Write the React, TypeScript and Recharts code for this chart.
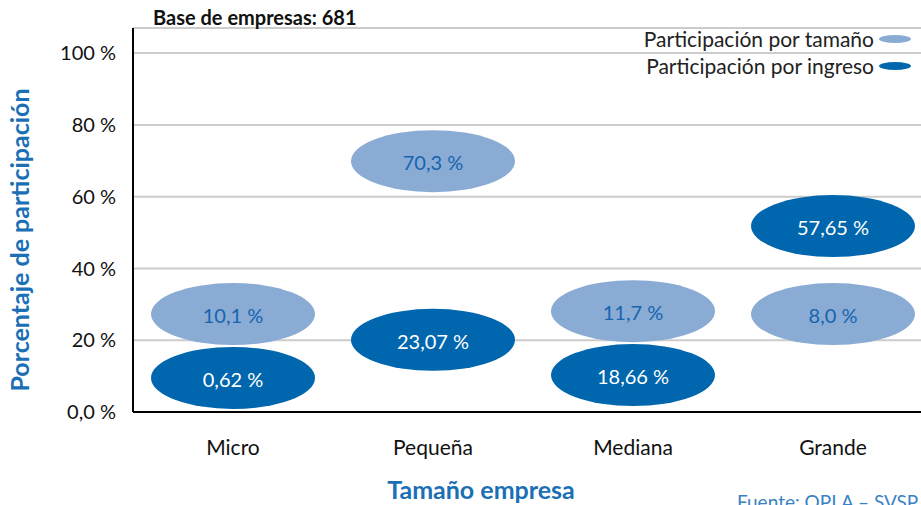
import {
  CartesianGrid,
  ComposedChart,
  Line,
  XAxis,
  YAxis,
} from "recharts";

const categories = ["Micro", "Pequeña", "Mediana", "Grande"];
// shares shown inside the ellipses
const sizeShare = [10.1, 70.3, 11.7, 8.0];
const incomeShare = [0.62, 23.07, 18.66, 57.65];
// where each ellipse sits on the y axis
const sizeMarkerY = [27.3, 69.9, 28.1, 27.3];
const incomeMarkerY = [9.5, 20.1, 10.3, 51.8];
const yTicks = [0, 20, 40, 60, 80, 100];

const LIGHT = "#8aabd4";
const DARK = "#0066ad";
const TITLE_BLUE = "#1a6fb5";
const FONT = "Lato, 'Open Sans', sans-serif";

const data = categories.map((name, i) => ({
  name,
  sizeY: sizeMarkerY[i],
  incomeY: incomeMarkerY[i],
  size: sizeShare[i],
  income: incomeShare[i],
}));

const fmt = (v: number, digits: number) => `${v.toFixed(digits).replace(".", ",")} %`;

function makeEllipse(fill: string, textColor: string, key: "size" | "income", digits: number) {
  return (props: any) => {
    const { cx, cy, index, payload } = props;
    if (cx == null || cy == null) return <g key={`${key}-${index}`} />;
    return (
      <g key={`${key}-${index}`}>
        <ellipse cx={cx} cy={cy} rx={82} ry={31} fill={fill} />
        <text
          x={cx}
          y={cy + 4}
          textAnchor="middle"
          dominantBaseline="middle"
          fill={textColor}
          fontSize={20}
          fontFamily={FONT}
        >
          {fmt(payload[key], digits)}
        </text>
      </g>
    );
  };
}

export default function App() {
  return (
    <div
      style={{
        position: "absolute",
        left: 0,
        top: 0,
        width: 921,
        height: 505,
        overflow: "hidden",
        background: "#fff",
        fontFamily: FONT,
      }}
    >
      <ComposedChart
        width={940}
        height={505}
        data={data}
        margin={{ top: 28, right: 7, bottom: 63, left: 0 }}
      >
        <CartesianGrid vertical={false} stroke="#cccccc" strokeWidth={2} />
        <XAxis
          dataKey="name"
          padding={{ left: 100, right: 100 }}
          axisLine={{ stroke: "#000", strokeWidth: 2 }}
          tickLine={false}
          tickMargin={22}
          tick={{ fill: "#111", fontSize: 21, fontFamily: FONT }}
        />
        <YAxis
          type="number"
          domain={[0, 107]}
          ticks={yTicks}
          width={133}
          axisLine={{ stroke: "#000", strokeWidth: 2 }}
          tickLine={false}
          tickMargin={11}
          tickFormatter={(v: number) => (v === 0 ? "0,0 %" : `${v} %`)}
          tick={{ fill: "#111", fontSize: 20, fontFamily: FONT }}
        />
        <Line
          dataKey="sizeY"
          stroke="none"
          isAnimationActive={false}
          dot={makeEllipse(LIGHT, "#1565b0", "size", 1)}
          activeDot={false}
        />
        <Line
          dataKey="incomeY"
          stroke="none"
          isAnimationActive={false}
          dot={makeEllipse(DARK, "#fff", "income", 2)}
          activeDot={false}
        />
      </ComposedChart>

      <div
        style={{
          position: "absolute",
          left: 153,
          top: 5,
          fontSize: 20,
          fontWeight: 700,
          color: "#111",
        }}
      >
        Base de empresas: 681
      </div>

      <div style={{ position: "absolute", right: 8, top: 25, fontSize: 21, color: "#222" }}>
        <div style={{ display: "flex", alignItems: "center", justifyContent: "flex-end", height: 27 }}>
          <span>Participación por tamaño</span>
          <svg width={36} height={10} style={{ marginLeft: 3 }}>
            <ellipse cx={18} cy={5} rx={16} ry={4} fill={LIGHT} />
          </svg>
        </div>
        <div style={{ display: "flex", alignItems: "center", justifyContent: "flex-end", height: 27 }}>
          <span>Participación por ingreso</span>
          <svg width={36} height={10} style={{ marginLeft: 3 }}>
            <ellipse cx={18} cy={5} rx={16} ry={4} fill={DARK} />
          </svg>
        </div>
      </div>

      <div
        style={{
          position: "absolute",
          left: 19,
          top: 240,
          transform: "translate(-50%, -50%) rotate(-90deg)",
          whiteSpace: "nowrap",
          fontSize: 25,
          fontWeight: 700,
          color: TITLE_BLUE,
        }}
      >
        Porcentaje de participación
      </div>

      <div
        style={{
          position: "absolute",
          left: 481,
          top: 489,
          transform: "translate(-50%, -50%)",
          whiteSpace: "nowrap",
          fontSize: 25,
          lineHeight: "28px",
          fontWeight: 700,
          color: TITLE_BLUE,
        }}
      >
        Tamaño empresa
      </div>

      <div
        style={{
          position: "absolute",
          left: 737,
          top: 490,
          whiteSpace: "nowrap",
          fontSize: 19,
          color: "#3b82c4",
        }}
      >
        Fuente: OPLA – SVSP
      </div>
    </div>
  );
}
